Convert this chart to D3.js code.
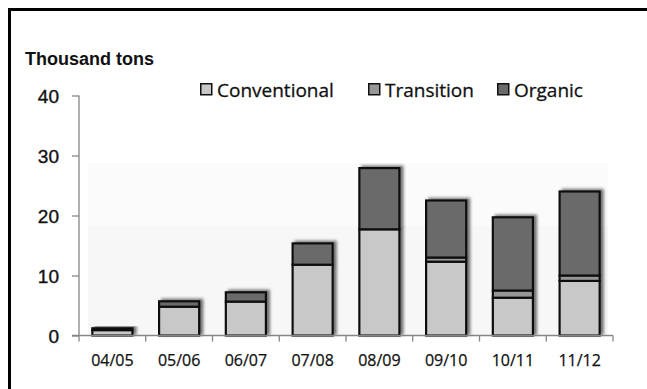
<!DOCTYPE html>
<html>
<head>
<meta charset="utf-8">
<script src="https://cdn.jsdelivr.net/npm/d3@7"></script>
<style>
  html, body { margin: 0; padding: 0; background: #fff; }
  svg { display: block; }
</style>
</head>
<body>
<script>
// Production by season, thousand tons
const seasons = ["04/05", "05/06", "06/07", "07/08", "08/09", "09/10", "10/11", "11/12"];
const conventional = [0.9, 4.8, 5.65, 11.8, 17.7, 12.3, 6.3, 9.1];
const transition   = [0, 0, 0, 0, 0, 0.7, 1.2, 0.9];
const organic      = [0.3, 0.9, 1.55, 3.55, 10.2, 9.5, 12.2, 14.0];
const seriesNames = ["Conventional", "Transition", "Organic"];
const seriesColors = ["#c8c8c8", "#979797", "#6b6b6b"];
const yTicks = [0, 10, 20, 30, 40];
const yTitle = "Thousand tons";

const W = 647, H = 389;
const svg = d3.select("body").append("svg").attr("width", W).attr("height", H);

const defs = svg.append("defs");
const shadow = defs.append("filter").attr("id", "barShadow")
  .attr("x", "-20%").attr("y", "-20%").attr("width", "150%").attr("height", "140%");
shadow.append("feDropShadow").attr("dx", 3).attr("dy", -1.5)
  .attr("stdDeviation", 1.6).attr("flood-color", "#000").attr("flood-opacity", 0.55);

// frame edges
svg.append("rect").attr("x", 8).attr("y", 8).attr("width", W).attr("height", 3).attr("fill", "#000");
svg.append("rect").attr("x", 8).attr("y", 8).attr("width", 3).attr("height", H).attr("fill", "#000");

const x = d3.scaleBand().domain(seasons).range([79, 613]).paddingInner(0.4).paddingOuter(0.2);
const y = d3.scaleLinear().domain([0, 40]).range([335.5, 95.5]);

// faint plot-area shading
svg.append("rect").attr("x", 88).attr("width", 520)
  .attr("y", y(28.75)).attr("height", y(18.25) - y(28.75)).attr("fill", "#fbfbfb");
svg.append("rect").attr("x", 88).attr("width", 520)
  .attr("y", y(18.25)).attr("height", y(0) - y(18.25)).attr("fill", "#f7f7f7");

const table = seasons.map((s, i) => ({
  season: s,
  Conventional: conventional[i],
  Transition: transition[i],
  Organic: organic[i]
}));
const layers = d3.stack().keys(seriesNames)(table);

// bars, one group per season so the shadow falls behind the whole stack
const groups = svg.append("g").selectAll("g").data(seasons).join("g")
  .attr("filter", "url(#barShadow)");
groups.each(function(season, i) {
  const g = d3.select(this);
  layers.forEach((layer, k) => {
    const d = layer[i];
    if (d[1] - d[0] <= 0) return;
    g.append("rect")
      .attr("x", x(season))
      .attr("width", x.bandwidth())
      .attr("y", y(d[1]))
      .attr("height", y(d[0]) - y(d[1]))
      .attr("fill", seriesColors[k])
      .attr("stroke", "#111")
      .attr("stroke-width", 2.2);
  });
});

// y axis
const yAxis = svg.append("g").attr("transform", "translate(79,0)")
  .call(d3.axisLeft(y).tickValues(yTicks).tickSize(7).tickPadding(13).tickFormat(d3.format("d")));
yAxis.select(".domain").attr("stroke", "#868686").attr("stroke-width", 1.3).attr("d", `M0,${y(40)}V${y(0)}`);
yAxis.selectAll(".tick line").attr("stroke", "#868686").attr("stroke-width", 1.3);
yAxis.selectAll("text").attr("font-family", "Liberation Sans, Arial, sans-serif")
  .attr("font-size", 19).attr("fill", "#111").attr("dy", "0.36em")
  .attr("stroke", "#111").attr("stroke-width", 0.35);

// x axis with ticks on band boundaries
const xAxis = svg.append("g").attr("transform", `translate(0,${y(0)})`);
xAxis.append("line").attr("x1", 72).attr("x2", 613).attr("y1", 0).attr("y2", 0)
  .attr("stroke", "#868686").attr("stroke-width", 1.3);
const bounds = seasons.map(s => x(s) - x.step() * x.paddingInner() / 2 - (s === seasons[0] ? x.step() * (x.paddingOuter() - x.paddingInner() / 2) : 0));
bounds.push(613);
xAxis.selectAll("line.tk").data(bounds).join("line").attr("class", "tk")
  .attr("x1", d => d).attr("x2", d => d).attr("y1", 0).attr("y2", 6)
  .attr("stroke", "#868686").attr("stroke-width", 1.3);
xAxis.selectAll("text").data(seasons).join("text")
  .attr("x", d => x(d) + x.bandwidth() / 2).attr("y", 30.5)
  .attr("text-anchor", "middle")
  .attr("font-family", "Open Sans, sans-serif").attr("font-size", 16).attr("fill", "#111")
  .attr("stroke", "#111").attr("stroke-width", 0.25)
  .text(d => d);

// axis title
svg.append("text").attr("x", 25).attr("y", 65)
  .attr("font-family", "Liberation Sans, Arial, sans-serif").attr("font-weight", "bold")
  .attr("font-size", 18).attr("fill", "#111").text(yTitle);

// legend
const legendX = [200, 368, 497];
const legend = svg.append("g").selectAll("g").data(seriesNames).join("g")
  .attr("transform", (d, i) => `translate(${legendX[i]},83)`);
legend.append("rect").attr("x", 0.75).attr("y", 0.75).attr("width", 11).attr("height", 11)
  .attr("fill", (d, i) => seriesColors[i]).attr("stroke", "#111").attr("stroke-width", 1.5);
legend.append("text").attr("x", 17).attr("y", 14)
  .attr("font-family", "Open Sans, sans-serif").attr("font-size", 19).attr("fill", "#111")
  .attr("stroke", "#111").attr("stroke-width", 0.3)
  .text(d => d);
</script>
</body>
</html>
